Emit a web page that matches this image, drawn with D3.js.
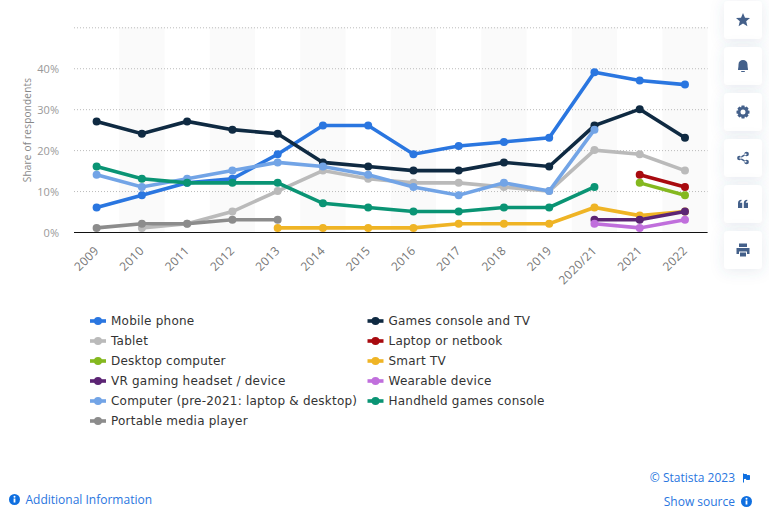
<!DOCTYPE html>
<html>
<head>
<meta charset="utf-8">
<script src="https://cdn.jsdelivr.net/npm/d3@7"></script>
<style>
  html, body { margin: 0; padding: 0; background: #fff; }
  svg { display: block; }
  .axis text { font-family: "Open Sans", sans-serif; }
  .leyenda text { font-family: "DejaVu Sans", sans-serif; font-size: 12px; font-weight: 500; letter-spacing: 0.22px; fill: #333; -webkit-text-stroke: 0.5px #333; }
  .enlace { font-family: "Open Sans", sans-serif; font-size: 12px; fill: #2a76e0; }
</style>
</head>
<body>
<script>
// the data
var years = ["2009", "2010", "2011", "2012", "2013", "2014", "2015", "2016", "2017", "2018", "2019", "2020/21", "2021", "2022"];
var yTicks = [0, 10, 20, 30, 40, 50];

var mobilePhone = [6, 9, 12, 13, 19, 26, 26, 19, 21, 22, 23, 39, 37, 36];
var gamesConsole = [27, 24, 27, 25, 24, 17, 16, 15, 15, 17, 16, 26, 30, 23];
var tablet = [null, 1, 2, 5, 10, 15, 13, 12, 12, 11, 10, 20, 19, 15];
var laptop = [null, null, null, null, null, null, null, null, null, null, null, null, 14, 11];
var desktop = [null, null, null, null, null, null, null, null, null, null, null, null, 12, 9];
var smartTv = [null, null, null, null, 1, 1, 1, 1, 2, 2, 2, 6, 4, 5];
var vrHeadset = [null, null, null, null, null, null, null, null, null, null, null, 3, 3, 5];
var wearable = [null, null, null, null, null, null, null, null, null, null, null, 2, 1, 3];
var computer = [14, 11, 13, 15, 17, 16, 14, 11, 9, 12, 10, 25, null, null];
var handheld = [16, 13, 12, 12, 12, 7, 6, 5, 5, 6, 6, 11, null, null];
var portable = [1, 2, 2, 3, 3, null, null, null, null, null, null, null, null, null];

var seriesNames = ["Mobile phone", "Games console and TV", "Tablet", "Laptop or netbook", "Desktop computer", "Smart TV",
                   "VR gaming headset / device", "Wearable device", "Computer (pre-2021: laptop & desktop)", "Handheld games console", "Portable media player"];
var seriesValues = [mobilePhone, gamesConsole, tablet, laptop, desktop, smartTv, vrHeadset, wearable, computer, handheld, portable];
var seriesColors = ["#2a76e0", "#0f2a42", "#bababa", "#a80a0f", "#84b81f", "#efb425", "#5c2474", "#c06fdc", "#72a4e6", "#0a9474", "#8c8c8c"];

var vis = { width: 769, height: 524, left: 74, right: 707.6, top: 27.3, bottom: 232 };

var svg = d3.select("body").append("svg")
    .attr("width", vis.width)
    .attr("height", vis.height);

var defs = svg.append("defs");
var sombra = defs.append("filter").attr("id", "sombra")
    .attr("x", "-40%").attr("y", "-40%").attr("width", "180%").attr("height", "180%");
sombra.append("feDropShadow").attr("dx", 0).attr("dy", 2).attr("stdDeviation", 7)
    .attr("flood-color", "#44608a").attr("flood-opacity", 0.13);

// scales
var x = d3.scaleBand().domain(years).range([vis.left, vis.right]);
var y = d3.scaleLinear().domain([0, 50]).range([vis.bottom, vis.top]);

// alternating stripes behind the lines
svg.selectAll(".banda")
    .data(years.filter(function(d, i) { return i % 2 == 1; }))
    .enter().append("rect")
    .attr("class", "banda")
    .attr("x", function(d) { return x(d); })
    .attr("y", vis.top)
    .attr("width", x.bandwidth())
    .attr("height", vis.bottom - vis.top)
    .attr("fill", "#fafafa");

// y axis with dotted grid
var yAxis = svg.append("g")
    .attr("class", "axis")
    .attr("transform", "translate(" + vis.left + ",0)")
    .call(d3.axisLeft(y).tickValues(yTicks).tickSize(0).tickPadding(15)
        .tickFormat(function(d) { return d == 50 ? "" : d + "%"; }));
yAxis.select(".domain").remove();
yAxis.selectAll("text").attr("fill", "#999").attr("font-size", 11).attr("dy", "0.4em");
yAxis.selectAll(".tick").append("line")
    .attr("x2", vis.right - vis.left)
    .attr("stroke", function(d) { return d == 0 ? "#111" : "#bbb"; })
    .attr("stroke-dasharray", function(d) { return d == 0 ? null : "1,2"; });

svg.append("text")
    .attr("transform", "translate(31,130) rotate(-90)")
    .attr("text-anchor", "middle")
    .attr("font-family", "'Open Sans', sans-serif")
    .attr("font-size", 10)
    .attr("letter-spacing", 0.2)
    .attr("fill", "#888")
    .text("Share of respondents");

// x axis, labels turned 45 degrees
var xAxis = svg.append("g")
    .attr("class", "axis")
    .attr("transform", "translate(0," + vis.bottom + ")")
    .call(d3.axisBottom(x).tickSize(0));
xAxis.select(".domain").remove();
xAxis.selectAll("text")
    .attr("fill", "#777")
    .attr("font-size", 12)
    .attr("letter-spacing", 0.3)
    .attr("text-anchor", "end")
    .attr("x", 0)
    .attr("y", 0)
    .attr("dy", 0)
    .attr("transform", "translate(3,19.5) rotate(-45)");

// lines and points
var linea = d3.line()
    .defined(function(d) { return d.value != null; })
    .x(function(d) { return x(d.year) + x.bandwidth() / 2; })
    .y(function(d) { return y(d.value); });

var series = seriesNames.map(function(name, i) {
    return {
        name: name,
        color: seriesColors[i],
        points: years.map(function(year, j) { return { year: year, value: seriesValues[i][j] }; })
    };
});

var grupos = svg.selectAll(".serie")
    .data(series)
    .enter().append("g")
    .attr("class", "serie");

grupos.append("path")
    .attr("d", function(d) { return linea(d.points); })
    .attr("fill", "none")
    .attr("stroke", function(d) { return d.color; })
    .attr("stroke-width", 3.6);

grupos.selectAll("circle")
    .data(function(d) {
        return d.points.filter(function(p) { return p.value != null; })
            .map(function(p) { return { year: p.year, value: p.value, color: d.color }; });
    })
    .enter().append("circle")
    .attr("cx", function(d) { return x(d.year) + x.bandwidth() / 2; })
    .attr("cy", function(d) { return y(d.value); })
    .attr("r", 4)
    .attr("fill", function(d) { return d.color; });

// legend, filled row by row in two columns
var leyenda = svg.selectAll(".leyenda")
    .data(series)
    .enter().append("g")
    .attr("class", "leyenda")
    .attr("transform", function(d, i) {
        return "translate(" + (i % 2 == 0 ? 90 : 367.5) + "," + (321 + Math.floor(i / 2) * 20) + ")";
    });
leyenda.append("line")
    .attr("x2", 16)
    .attr("stroke", function(d) { return d.color; })
    .attr("stroke-width", 3.6);
leyenda.append("circle")
    .attr("cx", 8)
    .attr("r", 4)
    .attr("fill", function(d) { return d.color; });
leyenda.append("text")
    .attr("x", 21)
    .attr("y", 4)
    .text(function(d) { return d.name; });

// links at the bottom
function infoIcon(cx, cy) {
    svg.append("circle").attr("cx", cx).attr("cy", cy).attr("r", 5.5).attr("fill", "#0f6fe0");
    svg.append("rect").attr("x", cx - 0.9).attr("y", cy - 1).attr("width", 1.8).attr("height", 4).attr("fill", "#fff");
    svg.append("circle").attr("cx", cx).attr("cy", cy - 2.8).attr("r", 1).attr("fill", "#fff");
}
infoIcon(14.5, 499.5);
svg.append("text").attr("class", "enlace").attr("x", 25.5).attr("y", 504).text("Additional Information");
svg.append("text").attr("class", "enlace").attr("x", 735).attr("y", 482).attr("text-anchor", "end").text("© Statista 2023");
svg.append("text").attr("class", "enlace").attr("x", 735).attr("y", 506).attr("text-anchor", "end").text("Show source");
infoIcon(746.5, 501.5);
svg.append("path")
    .attr("transform", "translate(743.5,473.5)")
    .attr("d", "M0,0V9 M0,1H3L4,2H6V6H3L2,5H0Z")
    .attr("fill", "#0f6fe0")
    .attr("stroke", "#0f6fe0");

// side buttons
var iconColor = "#44608a";
var iconos = [
    "M0,-7L2,-2.2L7,-2L3.2,1.2L4.4,6.2L0,3.5L-4.4,6.2L-3.2,1.2L-7,-2L-2,-2.2Z",
    "M-5,4C-5,2 -4.5,1.5 -4.5,-1.5C-4.5,-4.5 -2.5,-6 0,-6C2.5,-6 4.5,-4.5 4.5,-1.5C4.5,1.5 5,2 5,4Z M-1.8,5H1.8V6H-1.8Z",
    "M-1.4,-6.5H1.4L1.9,-4.6L3.7,-5.5L5.6,-3.5L4.6,-1.8L6.5,-1.3V1.4L4.6,1.9L5.6,3.6L3.6,5.6L1.9,4.6L1.4,6.5H-1.4L-1.9,4.6L-3.6,5.6L-5.6,3.6L-4.6,1.9L-6.5,1.4V-1.3L-4.6,-1.8L-5.6,-3.5L-3.6,-5.5L-1.9,-4.6Z M0,-2.5A2.5,2.5 0 1 0 0,2.5A2.5,2.5 0 1 0 0,-2.5Z",
    "M3.6,-6.3A2.3,2.3 0 1 1 3.6,-1.7A2.3,2.3 0 1 1 3.6,-6.3Z M3.6,1.7A2.3,2.3 0 1 1 3.6,6.3A2.3,2.3 0 1 1 3.6,1.7Z M-3.6,-2.3A2.3,2.3 0 1 1 -3.6,2.3A2.3,2.3 0 1 1 -3.6,-2.3Z M-3.6,-0.8L3,-4.8L3.8,-3.6L-2.8,0.4Z M-2.8,-0.4L3.8,3.6L3,4.8L-3.6,0.8Z",
    "M-5,-0.5C-5,-3 -4,-4 -1.5,-4.2V-3C-2.5,-2.8 -3,-2.2 -3,-1.2H-0.8V4H-5Z M0.8,-0.5C0.8,-3 1.8,-4 4.3,-4.2V-3C3.3,-2.8 2.8,-2.2 2.8,-1.2H5V4H0.8Z",
    "M-4,-6.5H4V-3H-4Z M-6.5,-2H6.5V4H4V1.5H-4V4H-6.5Z M-3,2.5H3V6.5H-3Z"
];
var botones = svg.selectAll(".boton")
    .data(iconos)
    .enter().append("g")
    .attr("class", "boton")
    .attr("transform", function(d, i) { return "translate(743," + (20 + i * 46) + ")"; });
botones.append("rect")
    .attr("x", -19)
    .attr("y", -19)
    .attr("width", 38)
    .attr("height", 38)
    .attr("rx", 4)
    .attr("fill", "#fff")
    .attr("filter", "url(#sombra)");
botones.append("path")
    .attr("d", function(d) { return d; })
    .attr("fill", iconColor)
    .attr("fill-rule", "evenodd");
</script>
</body>
</html>
